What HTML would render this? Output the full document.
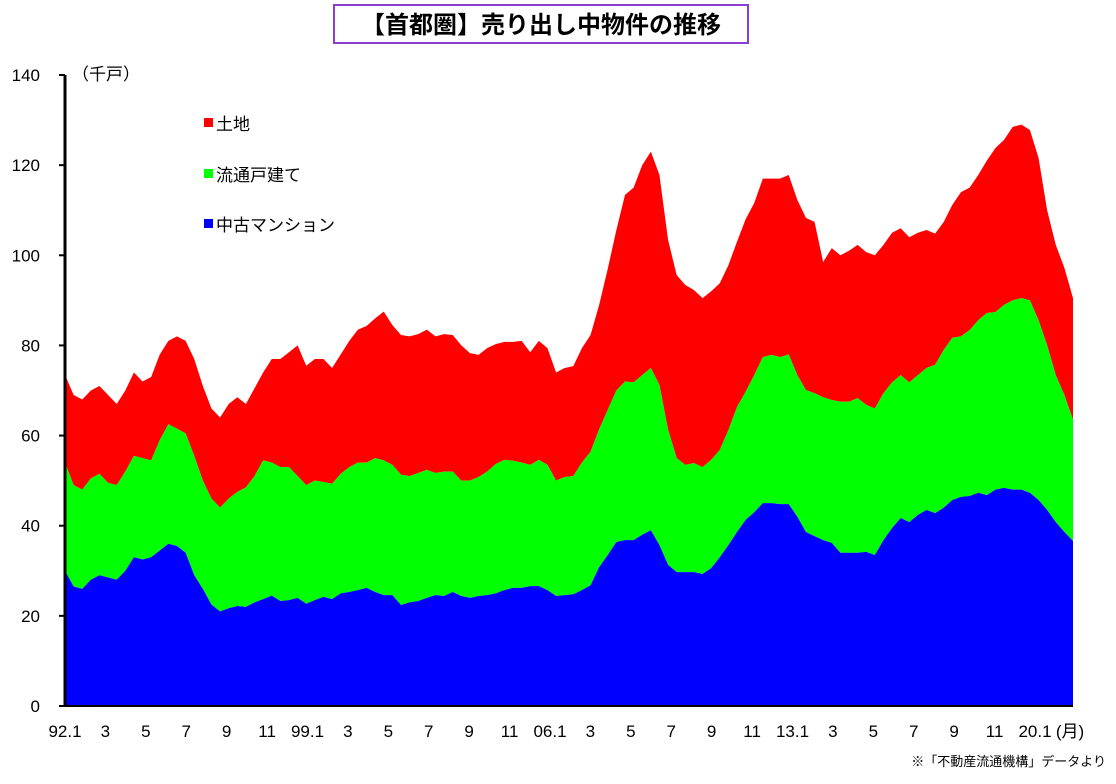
<!DOCTYPE html>
<html><head><meta charset="utf-8"><style>
body{margin:0;background:#fff;width:1116px;height:779px;overflow:hidden;font-family:"Liberation Sans","Noto Sans CJK JP",sans-serif}
svg text{font-family:"Liberation Sans","Noto Sans CJK JP",sans-serif}
</style></head><body>
<svg id="chart" width="1116" height="779">
<rect x="334" y="5" width="414" height="38" fill="#fff" stroke="#8a3fd0" stroke-width="2"/>
<text x="541" y="33" text-anchor="middle" font-size="24" font-weight="bold">【首都圏】売り出し中物件の推移</text>
<g id="areas"></g><g id="axes"></g>
<text x="72" y="80" font-size="17">（千戸）</text>
<rect x="204" y="118" width="9" height="9" fill="#ff0000"/>
<text x="216" y="130" font-size="17">土地</text>
<rect x="204" y="169" width="9" height="9" fill="#00ff00"/>
<text x="216" y="181" font-size="17">流通戸建て</text>
<rect x="204" y="219" width="9" height="9" fill="#0000ff"/>
<text x="216" y="231" font-size="17">中古マンション</text>
<text x="1070" y="737" font-size="17" text-anchor="middle">(月)</text>
<text x="1106" y="766" font-size="13" text-anchor="end">※「不動産流通機構」データより</text>
</svg>
<script>
const condo=[30,26.5,26,28,29,28.5,28,30,33,32.5,33,34.5,36,35.5,34,29,26,22.5,21,21.7,22.2,22,23,23.7,24.5,23.3,23.5,24,22.7,23.5,24.2,23.7,25,25.3,25.7,26.2,25.3,24.6,24.6,22.4,23,23.3,24,24.6,24.4,25.3,24.4,24,24.4,24.6,25,25.7,26.2,26.2,26.6,26.6,25.7,24.4,24.6,24.8,25.7,26.8,30.8,33.5,36.4,36.8,36.8,38,39,35.7,31.3,29.7,29.7,29.7,29.3,30.6,33,35.7,38.6,41.3,43,45,45,44.8,44.8,42,38.6,37.7,36.8,36.2,34,34,34,34.2,33.5,36.8,39.5,41.7,40.8,42.4,43.5,42.8,44,45.7,46.4,46.6,47.3,46.8,48,48.4,48,48,47.3,45.7,43.5,40.8,38.6,36.6];
const house=[24,22.5,22,22.5,22.5,21,21,22,22.5,22.5,21.5,24.5,26.5,26,26.5,26.5,24,23.5,23,24.3,25.3,26.5,28,30.8,29.5,29.7,29.5,27,26.3,26.5,25.5,25.6,26.5,27.7,28.3,27.8,29.7,29.9,28.9,28.9,28,28.4,28.4,27.1,27.6,26.7,25.6,26,26.4,27.4,28.7,28.9,28.2,27.8,26.9,28,27.8,25.6,26.2,26.2,28.3,29.6,30.6,32.2,33.6,35.2,35,35.4,36,35.5,30,25.3,23.8,24.2,23.7,24,23.8,25.5,27.7,28.4,30.4,32.4,32.9,32.6,33.2,31.4,31.5,31.7,31.7,31.7,33.5,33.5,34.3,32.6,32.5,32.6,32.3,31.7,31,31,31.5,32.9,35,36,35.6,36.8,38.3,40.4,39.4,40.6,42,42.5,42.7,39.9,36.5,32.6,30.4,26.9];
const land=[19.5,20,20,19.5,19.5,19.5,18,18,18.5,17,18.5,19,18.5,20.5,20.5,21.5,21,20,20,21,21,18.5,19.5,19.5,23,24,25.5,29,26.5,27,27.3,25.7,26.5,28,29.5,30.3,31,33,31,31,31,30.8,31.1,30.3,30.5,30.3,30,28.3,27.1,27.4,26.6,26.2,26.4,27,25,26.4,25.9,24,24.2,24.4,25.4,25.9,27.6,31.3,35.6,41.4,43.2,46.6,48,46.6,42.1,40.6,39.9,38.4,37.5,37.4,37,36.6,36.7,38.3,38.2,39.6,39.1,39.6,39.8,38.9,38.2,38,30,33.7,32.5,33.5,34,33.9,34,32.9,33.2,32.6,32.2,31.6,30.6,29.1,28.4,29.5,32,31.6,32.2,33.8,36.4,36.6,38.5,38.5,37.8,36,30,28.9,28.2,27];
const yTicks=[0,20,40,60,80,100,120,140];
const xLabels=["92.1","3","5","7","9","11","99.1","3","5","7","9","11","06.1","3","5","7","9","11","13.1","3","5","7","9","11","20.1"];
const NS="http://www.w3.org/2000/svg";
const X0=65,X1=1073,Y0=706,YT=75;
const x=i=>X0+i*(X1-X0)/(condo.length-1);
const y=v=>Y0-v*(Y0-YT)/140;
const areas=document.getElementById('areas'),axes=document.getElementById('axes');
function area(lo,hi,color,name){
  let d='M'+x(0)+','+y(hi[0]);
  for(let i=1;i<hi.length;i++)d+='L'+x(i)+','+y(hi[i]);
  for(let i=lo.length-1;i>=0;i--)d+='L'+x(i)+','+y(lo[i]);
  const p=document.createElementNS(NS,'path');
  p.setAttribute('d',d+'Z');p.setAttribute('fill',color);
  
  
  areas.appendChild(p);
}
const zero=condo.map(()=>0);
const c1=condo.slice();
const c2=condo.map((v,i)=>v+house[i]);
const c3=c2.map((v,i)=>v+land[i]);
area(c2,c3,'#ff0000','land-area');
area(c1,c2,'#00ff00','house-area');
area(zero,c1,'#0000ff','condo-area');
function line(x1,y1,x2,y2,w){const l=document.createElementNS(NS,'line');l.setAttribute('x1',x1);l.setAttribute('y1',y1);l.setAttribute('x2',x2);l.setAttribute('y2',y2);l.setAttribute('stroke','#000');l.setAttribute('stroke-width',w);axes.appendChild(l);return l;}
const ya=line(X0,YT,X0,Y0,3);


const xa=line(X0,Y0,X1,Y0,2);


yTicks.forEach(v=>{
  const t=line(X0-6,y(v),X0,y(v),2);
  
  
  const tx=document.createElementNS(NS,'text');
  tx.setAttribute('x',40);tx.setAttribute('y',y(v)+6);tx.setAttribute('text-anchor','end');tx.setAttribute('font-size','17');
  tx.textContent=v;
  
  
  axes.appendChild(tx);
});
const pxPerMonth=(1035-65)/(28*12);
xLabels.forEach((s,i)=>{
  const xx=X0+i*14*pxPerMonth;
  const tx=document.createElementNS(NS,'text');
  tx.setAttribute('x',xx);tx.setAttribute('y',737);tx.setAttribute('text-anchor','middle');tx.setAttribute('font-size','17');
  tx.textContent=s;
  
  
  axes.appendChild(tx);
});
</script>
</body></html>
